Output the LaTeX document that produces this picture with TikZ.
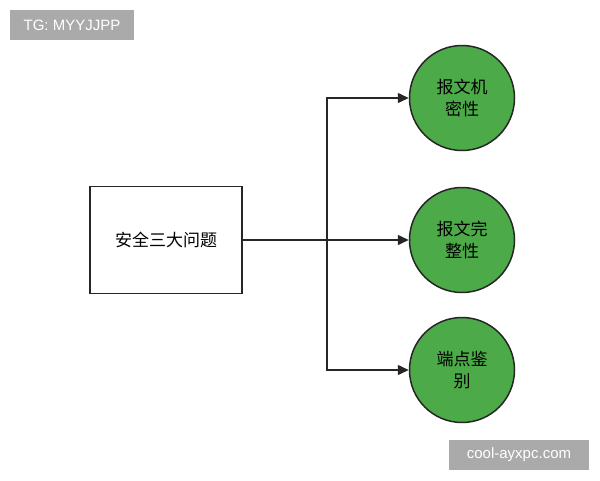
\documentclass[tikz,border=0pt]{standalone}
\usepackage{fontspec}
\setmainfont{Liberation Sans}
\newfontfamily\cjk{Noto Sans CJK SC}
\usetikzlibrary{arrows.meta}
\definecolor{grn}{RGB}{76,170,72}
\definecolor{tag}{RGB}{170,170,170}
\begin{document}
\begin{tikzpicture}[x=1pt,y=-1pt,
  circ/.style={circle,draw=black!85,line width=1.5pt,fill=grn,minimum size=105pt,inner sep=0pt,align=center,font=\cjk\fontsize{17}{22}\selectfont},
  conn/.style={line width=1.5pt,draw=black!85,-{Triangle[length=11pt,width=10pt]}},
  tagb/.style={fill=tag,text=white,inner sep=0pt,font=\fontsize{15}{17}\selectfont}]
\useasboundingbox (0,0) rectangle (600,480);
\node[draw=black!85,line width=1.5pt,minimum width=152pt,minimum height=107pt,font=\cjk\fontsize{17}{20}\selectfont] (q) at (166,240) {安全三大问题};
\node[circ] (a) at (462,98) {报文机\\密性};
\node[circ] (b) at (462,240) {报文完\\整性};
\node[circ] (c) at (462,370) {端点鉴\\别};
\coordinate (j) at (327,240);
\draw[line width=1.5pt,draw=black!85] (q.east) -- (j);
\draw[conn] (j) |- (a.west);
\draw[conn] (j) -- (b.west);
\draw[conn] (j) |- (c.west);
\node[tagb,minimum width=124pt,minimum height=30pt] (t1) at (72,25) {TG: MYYJJPP};
\node[tagb,minimum width=140pt,minimum height=30pt] (t2) at (519,455) {cool-ayxpc.com};
\end{tikzpicture}
\end{document}
